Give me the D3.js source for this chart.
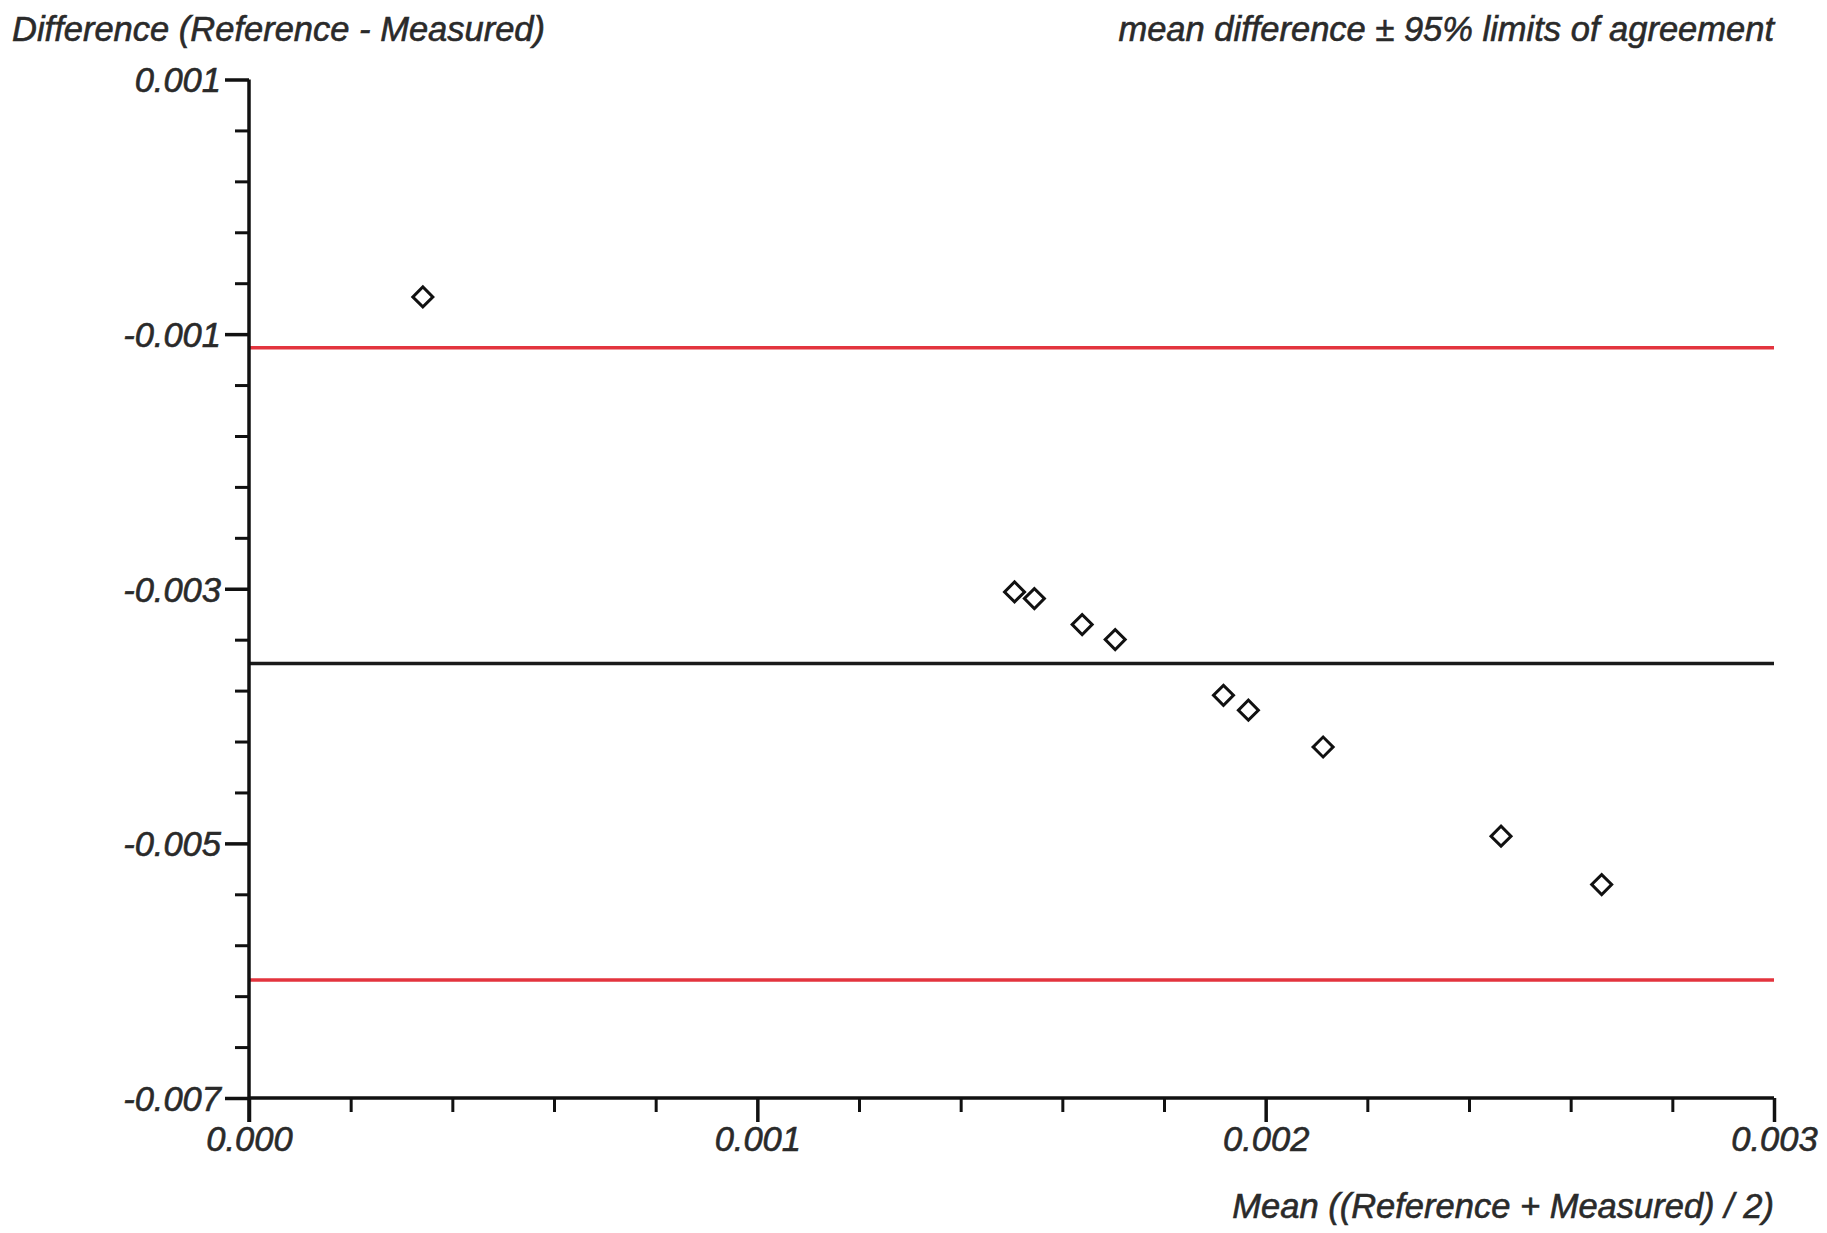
<!DOCTYPE html>
<html>
<head>
<meta charset="utf-8">
<script src="https://cdn.jsdelivr.net/npm/d3@7"></script>
<style>
  html, body { margin: 0; padding: 0; background: #fff; }
  svg { display: block; }
  text { font-family: "Liberation Sans", Arial, sans-serif; font-style: italic; fill: #2a2a2a; stroke: #2a2a2a; stroke-width: 0.6px; }
</style>
</head>
<body>
<svg id="chart" width="1827" height="1233"></svg>
<script>
// Data
const meanValues = [0.000342, 0.001506, 0.001545, 0.001639, 0.001704, 0.001917, 0.001966, 0.002113, 0.002463, 0.002661];
const diffValues = [-0.000708, -0.003025, -0.003077, -0.003281, -0.003399, -0.003837, -0.003954, -0.004243, -0.004944, -0.005324];
const meanDifference = -0.003587;
const upperLimit = -0.001108;
const lowerLimit = -0.006073;
const xTickLabels = [0.000, 0.001, 0.002, 0.003];
const yTickLabels = [0.001, -0.001, -0.003, -0.005, -0.007];
const xMinorStep = 0.0002;
const yMinorStep = 0.0004;

const yTitle = "Difference (Reference - Measured)";
const xTitle = "Mean ((Reference + Measured) / 2)";
const legendTitle = "mean difference \u00b1 95% limits of agreement";

(function () {
const svg = d3.select("#chart");
const pLeft = 249, pRight = 1774, pTop = 79.5, pBottom = 1098;
const FS = 34.5;

const x = d3.scaleLinear().domain([0, 0.003]).range([pLeft, pRight]);
const y = d3.scaleLinear().domain([0.001, -0.007]).range([pTop, pBottom]);

const locale = d3.formatLocale({decimal: ".", thousands: ",", grouping: [3], currency: ["", ""], minus: "-"});
const fmt = locale.format(".3f");

const xMinor = d3.range(0, 0.003 + 1e-9, xMinorStep).filter(v => !xTickLabels.some(t => Math.abs(t - v) < 1e-9));
const yMinor = d3.range(0.001, -0.007 - 1e-9, -yMinorStep).filter(v => !yTickLabels.some(t => Math.abs(t - v) < 1e-9));

const axisColor = "#111";

const lines = [
  {v: upperLimit, c: "#e3343e"},
  {v: lowerLimit, c: "#e3343e"},
  {v: meanDifference, c: "#1a1a1a"}
];
svg.selectAll("line.limit").data(lines).enter().append("line")
  .attr("class", "limit")
  .attr("x1", x(0)).attr("x2", x(0.003))
  .attr("y1", d => y(d.v)).attr("y2", d => y(d.v))
  .attr("stroke", d => d.c).attr("stroke-width", 3.5);

const yAxis = d3.axisLeft(y).tickValues(yTickLabels).tickFormat(fmt).tickSize(24).tickPadding(4);
const gy = svg.append("g").attr("transform", `translate(${pLeft},0)`).call(yAxis);
gy.select(".domain").remove();
gy.append("line").attr("x1", 0).attr("x2", 0).attr("y1", pTop).attr("y2", pBottom + 24)
  .attr("stroke", axisColor).attr("stroke-width", 3.5);
gy.selectAll(".tick line").attr("stroke", axisColor).attr("stroke-width", 3.5);
gy.selectAll(".tick text").attr("font-size", FS).attr("dy", "0.36em").attr("x", -28);
const yMinorAxis = d3.axisLeft(y).tickValues(yMinor).tickFormat("").tickSize(14);
const gym = svg.append("g").attr("transform", `translate(${pLeft},0)`).call(yMinorAxis);
gym.select(".domain").remove();
gym.selectAll(".tick line").attr("stroke", axisColor).attr("stroke-width", 3);

const xAxis = d3.axisBottom(x).tickValues(xTickLabels).tickFormat(fmt).tickSize(24).tickPadding(6);
const gx = svg.append("g").attr("transform", `translate(0,${pBottom})`).call(xAxis);
gx.select(".domain").remove();
gx.append("line").attr("x1", pLeft).attr("x2", pRight).attr("y1", 0).attr("y2", 0)
  .attr("stroke", axisColor).attr("stroke-width", 3.5);
gx.selectAll(".tick line").attr("stroke", axisColor).attr("stroke-width", 3.5);
gx.selectAll(".tick text").attr("font-size", FS).attr("y", 29).attr("dy", "0.71em");
const xMinorAxis = d3.axisBottom(x).tickValues(xMinor).tickFormat("").tickSize(14);
const gxm = svg.append("g").attr("transform", `translate(0,${pBottom})`).call(xMinorAxis);
gxm.select(".domain").remove();
gxm.selectAll(".tick line").attr("stroke", axisColor).attr("stroke-width", 3);

const pts = meanValues.map((m, i) => ({m, d: diffValues[i]}));
const sym = d3.symbol().type(d3.symbolSquare).size(200);
svg.selectAll("path.pt").data(pts).enter().append("path")
  .attr("class", "pt")
  .attr("d", sym)
  .attr("transform", d => `translate(${x(d.m)},${y(d.d)}) rotate(45)`)
  .attr("fill", "#fff").attr("stroke", "#111").attr("stroke-width", 3);

svg.append("text").attr("x", 12).attr("y", 41).attr("font-size", FS).text(yTitle);
svg.append("text").attr("x", pRight).attr("y", 41).attr("font-size", FS).attr("text-anchor", "end").text(legendTitle);
svg.append("text").attr("x", pRight).attr("y", 1218).attr("font-size", FS).attr("text-anchor", "end").text(xTitle);
})();
</script>
</body>
</html>
